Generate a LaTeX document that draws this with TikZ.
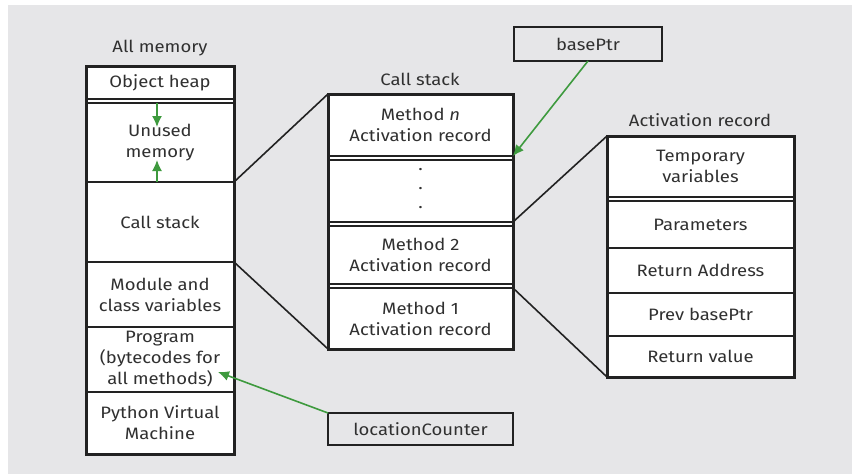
\documentclass[tikz,border=0pt]{standalone}
\usepackage{fontspec}
\setmainfont{Fira Sans}[FakeStretch=1.12]
\usetikzlibrary{arrows.meta}
\definecolor{bg}{HTML}{E6E6E8}
\definecolor{ink}{HTML}{222222}
\definecolor{txt}{HTML}{303030}
\definecolor{grn}{HTML}{3E9A3E}
\tikzset{
  cell/.style={draw=ink, line width=1.8pt, inner sep=0pt, outer sep=0pt, align=center,
    text=txt, font=\fontsize{16.5}{21}\selectfont},
  cellL/.style={cell, minimum width=148pt, minimum height=#1},
  cellM/.style={cell, minimum width=185pt, minimum height=#1},
  cellR/.style={cell, minimum width=187pt, minimum height=#1},
  title/.style={text=txt, inner sep=0pt, font=\fontsize{16.5}{21}\selectfont},
  conn/.style={draw=ink, line width=1.6pt},
  garrow/.style={draw=grn, line width=1.6pt, -{Latex[length=11pt,width=10pt]}},
  colbox/.style={draw=ink, line width=3pt, fill=none},
}
\begin{document}
\begin{tikzpicture}[x=1pt,y=-1pt]
\fill[white] (0,0) rectangle (852,474);
\fill[bg] (8,5) rectangle (852,474);
\useasboundingbox (0,0) rectangle (852,474);

% column backgrounds
\fill[white] (86,66) rectangle (234,454);
\fill[white] (328,94) rectangle (513,349);
\fill[white] (607,136) rectangle (794,377);

% titles
\node[title] (tAll) at (160,48) {All memory};
\node[title] (tCall) at (420,79) {Call stack};
\node[title] (tAct) at (700,120) {Activation record};

% left column
\node[cellL=33pt] (heap) at (160,82.5) {Object heap};
\node[cellL=79pt] (unused) at (160,142.5) {Unused\\memory};
\node[cellL=80pt] (lcs) at (160,222) {Call stack};
\node[cellL=65pt] (mod) at (160,294.5) {Module and\\class variables};
\node[cellL=65pt] (prog) at (160,359.5) {Program\\(bytecodes for\\all methods)};
\node[cellL=62pt] (pvm) at (160,423) {Python Virtual\\Machine};
\draw[colbox] (86,66) rectangle (234,454);

% middle column
\node[cellM=62pt] (mn) at (420.5,125) {Method \textit{n}\\Activation record};
\node[cellM=62pt] (dots) at (420.5,191) {};
\node[title, align=center, font=\fontsize{16.5}{19}\selectfont] (dotsT) at (420.5,189) {.\\.\\.};
\node[cellM=58pt] (m2) at (420.5,255) {Method 2\\Activation record};
\node[cellM=61pt] (m1) at (420.5,318.5) {Method 1\\Activation record};
\draw[colbox] (328,94) rectangle (513,349);

% right column
\node[cellR=61pt] (tmp) at (700.5,166.5) {Temporary\\variables};
\node[cellR=47pt] (par) at (700.5,224.5) {Parameters};
\node[cellR=45pt] (ret) at (700.5,270.5) {Return Address};
\node[cellR=43pt] (prev) at (700.5,314.5) {Prev basePtr};
\node[cellR=41pt] (rv) at (700.5,356.5) {Return value};
\draw[colbox] (607,136) rectangle (794,377);

% pointer boxes
\node[cellL=34pt, line width=2.6pt] (bp) at (588,44) {basePtr};
\node[cellM=32pt, line width=2.6pt] (lc) at (420.5,429) {locationCounter};

% connectors
\draw[conn] (lcs.north east) -- (mn.north west);
\draw[conn] (lcs.south east) -- (m1.south west);
\draw[conn] (dots.south east) -- (tmp.north west);
\draw[conn] (m1.north east) -- (rv.south west);

% green arrows
\draw[garrow] (bp.south) -- (mn.south east);
\coordinate (pc) at (218,372);
\draw[garrow] (lc.north west) -- (pc);
\draw[garrow] ([xshift=-3pt]unused.north) -- ++(0,24);
\draw[garrow] ([xshift=-3pt]unused.south) -- ++(0,-22);
\end{tikzpicture}
\end{document}
